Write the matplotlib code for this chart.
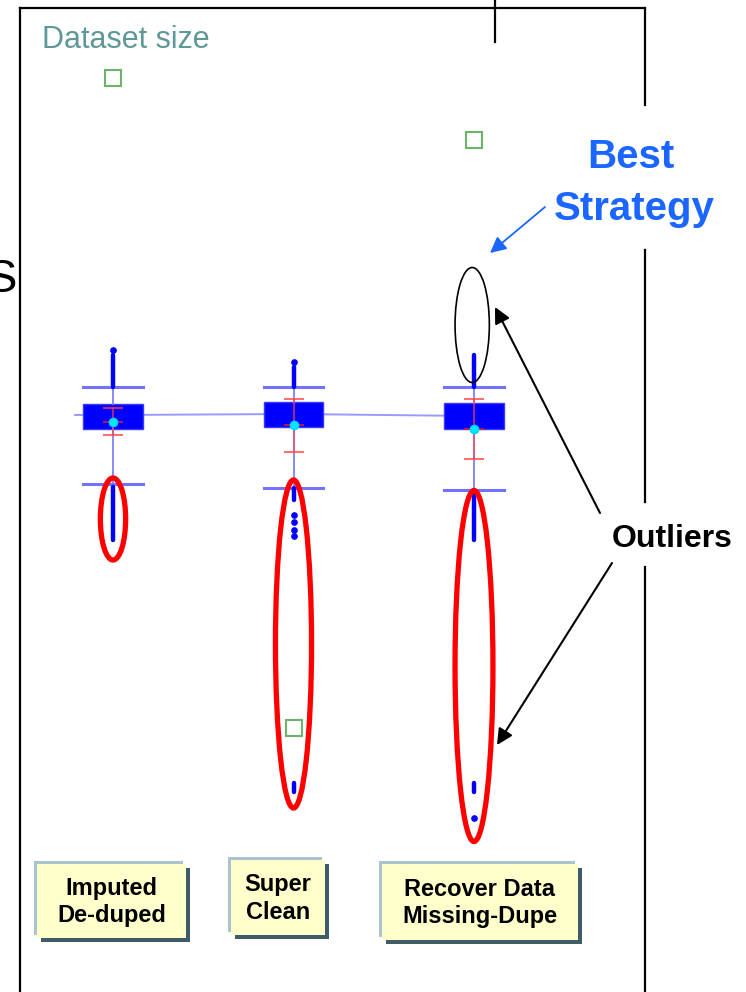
import matplotlib
matplotlib.use("Agg")
import matplotlib.pyplot as plt
from matplotlib.patches import Ellipse, Rectangle
from matplotlib.lines import Line2D
import numpy as np

plt.rcParams['font.family'] = ['Liberation Sans', 'DejaVu Sans']

# ---------------- data ----------------
categories = ["Imputed\nDe-duped", "Super\nClean", "Recover Data\nMissing-Dupe"]
positions = [1, 2, 3]
q1 = [56.3, 56.5, 56.3]
q3 = [58.8, 59.0, 58.9]
medians = [57.7, 57.8, 57.6]
whisker_lo = [50.8, 50.4, 50.2]
whisker_hi = [60.5, 60.5, 60.5]
means = [57.0, 56.7, 56.3]
ci_lo = [55.7, 54.0, 53.3]
ci_hi = [58.4, 59.3, 59.3]
# outliers: dense runs (lo, hi) and single points
outlier_runs = [
    [(60.5, 63.7), (45.2, 50.5)],
    [(60.5, 62.5), (49.2, 50.4), (20.0, 20.9)],
    [(60.5, 63.7), (45.2, 50.2), (20.0, 20.9)],
]
outlier_points = [
    [64.2],
    [63.0, 47.7, 47.0, 46.2, 45.6],
    [17.4],
]
dataset_size = [91.4, 26.4, 85.2]
# highlighted outlier regions (center, height) per group
red_ell_center = [47.3, 34.8, 32.6]
red_ell_height = [8.2, 32.8, 35.1]
red_ell_width = [0.14, 0.20, 0.21]
best_ell = (66.7, 11.5, 0.19)  # center, height, width for group 3 top outliers

# ---------------- figure ----------------
W, H = 746, 992
fig = plt.figure(figsize=(W / 100, H / 100), dpi=100)
fig.patch.set_facecolor('white')

def fx(x):
    return x / W

def fy(y):
    return 1 - y / H

ax = fig.add_axes([0, 0, 1, 1])
ax.set_xlim(1 - 113 / 180.5, 1 + (W - 113) / 180.5)
ax.set_ylim(0, H / 10)
ax.axis('off')

blue = '#0000ff'
light_blue = '#7272ff'

# median connecting line with left stub
ax.plot([positions[0] - 0.21] + positions, [medians[0]] + medians,
        color='#9a9aff', lw=1.4, zorder=1)

stats = []
for i in range(3):
    stats.append(dict(med=medians[i], q1=q1[i], q3=q3[i],
                      whislo=whisker_lo[i], whishi=whisker_hi[i], fliers=[]))
ax.bxp(stats, positions=positions, widths=0.332, capwidths=0.332,
       patch_artist=True, showfliers=False, manage_ticks=False,
       boxprops=dict(facecolor=blue, edgecolor='#3a3aff', lw=1.0),
       whiskerprops=dict(color='#8080ff', lw=1.3),
       capprops=dict(color=light_blue, lw=2.2),
       medianprops=dict(linewidth=0), zorder=2)

# outliers
for i, p in enumerate(positions):
    for lo, hi in outlier_runs[i]:
        ax.plot([p, p], [lo, hi], color=blue, lw=3.2,
                solid_capstyle='round', zorder=3)
    ax.plot([p] * len(outlier_points[i]), outlier_points[i], 'o',
            color=blue, ms=3.8, zorder=3)

# confidence interval of mean
m = np.array(means)
ax.errorbar(positions, means, yerr=[m - np.array(ci_lo), np.array(ci_hi) - m],
            fmt='none', ecolor=(1, 0.25, 0.25, 0.75), elinewidth=1.2,
            capsize=7.5, capthick=1.5, zorder=4)
ax.plot(positions, means, '_', color=(0.85, 0.1, 0.2, 0.8), ms=15, mew=1.5,
        zorder=4)
ax.plot(positions, means, 'o', mfc='#00e8ff', mec='#00d0ff', ms=6, zorder=5)

# dataset size markers
ax.plot(positions, dataset_size, 's', mfc='none', mec='#6cb36c', mew=1.5,
        ms=11.5, zorder=6)

# outlier ellipses
for i, p in enumerate(positions):
    ax.add_patch(Ellipse((p, red_ell_center[i]), red_ell_width[i],
                         red_ell_height[i], fill=False, ec='#ff0000',
                         lw=3.8, zorder=6))
ax.add_patch(Ellipse((positions[2] - 0.01, best_ell[0]), best_ell[2],
                     best_ell[1], fill=False, ec='black', lw=1.2, zorder=6))

# ---------------- frame lines ----------------
def fline(x0, y0, x1, y1, lw=1.6):
    fig.add_artist(Line2D([fx(x0), fx(x1)], [fy(y0), fy(y1)],
                          transform=fig.transFigure, color='black', lw=lw))

fline(20, 8, 20, 992)
fline(20, 8, 645, 8)
fline(645, 8, 645, 105)
fline(645, 250, 645, 502)
fline(645, 567, 645, 992)
fline(495, 0, 495, 42)

# ---------------- texts ----------------
fig.text(fx(17), fy(292), 'S', ha='right', va='baseline', fontsize=34)
fig.text(fx(42), fy(48), 'Dataset size', ha='left', va='baseline',
         fontsize=22, color='#5f9898')
best_blue = '#1a66ff'
fig.text(fx(631), fy(168), 'Best', ha='center', va='baseline', fontsize=29,
         fontweight='bold', color=best_blue)
fig.text(fx(634), fy(220), 'Strategy', ha='center', va='baseline',
         fontsize=29, fontweight='bold', color=best_blue)
fig.text(fx(612), fy(547), 'Outliers', ha='left', va='baseline', fontsize=23,
         fontweight='bold', color='black')

def farrow(x0, y0, x1, y1, color, lw):
    ax.annotate('', xy=(fx(x1), fy(y1)), xycoords='figure fraction',
                xytext=(fx(x0), fy(y0)), textcoords='figure fraction',
                arrowprops=dict(arrowstyle='-|>', color=color, lw=lw,
                                mutation_scale=24, shrinkA=0, shrinkB=0),
                zorder=7)

farrow(545, 207, 490, 253, best_blue, 1.3)
farrow(600, 513, 495, 307, 'black', 1.5)
farrow(612, 563, 497, 745, 'black', 1.5)

# ---------------- category label boxes ----------------
label_boxes = [(37, 864, 186, 938), (231, 860, 325, 935), (382, 864, 578, 940)]
for (x0, y0, x1, y1), lab in zip(label_boxes, categories):
    w, h = (x1 - x0) / W, (y1 - y0) / H
    fig.add_artist(Rectangle((fx(x0 + 4), fy(y1 + 4)), w, h,
                             transform=fig.transFigure, fc='#3f5b66', ec='none'))
    fig.add_artist(Rectangle((fx(x0 - 3), fy(y1 - 3)), w, h,
                             transform=fig.transFigure, fc='#a9c4ce', ec='none'))
    fig.add_artist(Rectangle((fx(x0), fy(y1)), w, h,
                             transform=fig.transFigure, fc='#ffffcc', ec='none'))
    fig.text(fx((x0 + x1) / 2), fy((y0 + y1) / 2 + 1), lab, ha='center',
             va='center', fontsize=17, fontweight='bold', linespacing=1.27)

fig.savefig('out.png', dpi=100)
